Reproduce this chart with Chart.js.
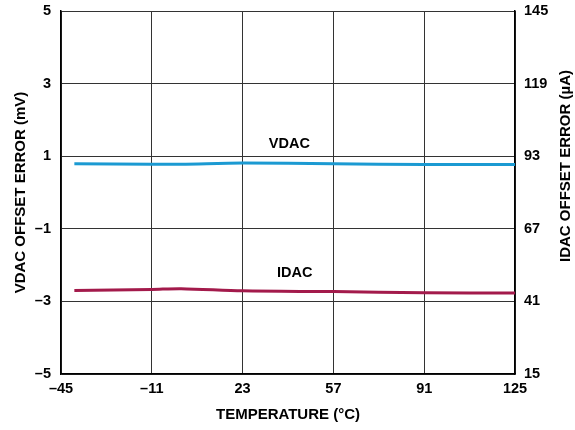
<!DOCTYPE html>
<html>
<head>
<meta charset="utf-8">
<script src="https://cdn.jsdelivr.net/npm/chart.js@4.4.0/dist/chart.umd.min.js"></script>
<style>
    html, body { margin: 0; padding: 0; background: #fff; }
    #wrap { width: 575px; height: 430px; }
</style>
</head>
<body>
<div id="wrap"><canvas id="OffsetError"></canvas></div>
<script>
    var temperature = [-40, -11, 0, 23, 57, 91, 125];
    var vdacError = [0.79, 0.78, 0.78, 0.81, 0.79, 0.77, 0.77];
    var idacError = [-2.70, -2.67, -2.65, -2.71, -2.73, -2.76, -2.77];

    var xTicks = [-45, -11, 23, 57, 91, 125];
    var leftTicks = [-5, -3, -1, 1, 3, 5];
    var rightTicks = [15, 41, 67, 93, 119, 145];

    // series name labels, placed in data units
    var seriesLabels = [
        { text: "VDAC", x: 40.5, y: 1.34 },
        { text: "IDAC", x: 42.5, y: -2.22 }
    ];

    var dash = function (v) { return String(v).replace("-", "\u2013"); };
    var fontFamily = "Liberation Sans, Arial, sans-serif";
    var tickFont = { family: fontFamily, size: 14.5, weight: "bold" };
    var titleFont = { family: fontFamily, size: 15, weight: "bold" };

    var labelPlugin = {
        id: "seriesLabels",
        afterDatasetsDraw: function (chart) {
            var ctx = chart.ctx;
            ctx.save();
            ctx.font = "bold 14.5px " + fontFamily;
            ctx.fillStyle = "#000";
            ctx.textAlign = "center";
            ctx.textBaseline = "middle";
            seriesLabels.forEach(function (l) {
                ctx.fillText(l.text, chart.scales.x.getPixelForValue(l.x), chart.scales.y.getPixelForValue(l.y));
            });
            // right axis title reads bottom to top, like the left one
            ctx.font = "bold 15px " + fontFamily;
            ctx.translate(chart.scales.y2.right - 9, 166);
            ctx.rotate(-Math.PI / 2);
            ctx.fillText("IDAC OFFSET ERROR (µA)", 0, 0);
            ctx.restore();
        }
    };

    var fitY = function (w) {
        return function (s) {
            s.width = w;
            s.paddingTop = 0;
            s.paddingBottom = 0;
        };
    };

    new Chart(document.getElementById("OffsetError"), {
        type: "line",
        data: {
            datasets: [
                {
                    label: "VDAC",
                    borderColor: "#1b9ad2",
                    borderWidth: 3,
                    pointRadius: 0,
                    tension: 0.3,
                    yAxisID: "y",
                    data: temperature.map(function (t, i) { return { x: t, y: vdacError[i] }; })
                },
                {
                    label: "IDAC",
                    borderColor: "#a31a4b",
                    borderWidth: 3,
                    pointRadius: 0,
                    tension: 0.3,
                    yAxisID: "y",
                    data: temperature.map(function (t, i) { return { x: t, y: idacError[i] }; })
                }
            ]
        },
        options: {
            responsive: true,
            maintainAspectRatio: false,
            animation: false,
            layout: { padding: { top: 11, left: 0, right: 0, bottom: 0 } },
            plugins: {
                legend: { display: false },
                tooltip: { enabled: false }
            },
            scales: {
                x: {
                    type: "linear",
                    min: -45,
                    max: 125,
                    afterBuildTicks: function (s) { s.ticks = xTicks.map(function (v) { return { value: v }; }); },
                    afterFit: function (s) { s.height = 56; },
                    grid: { color: "#333", lineWidth: 1, drawTicks: false },
                    border: { color: "#000", width: 1.5 },
                    ticks: { color: "#000", font: tickFont, padding: 6, maxRotation: 0, callback: dash },
                    title: { display: true, text: "TEMPERATURE (°C)", color: "#000", font: titleFont, padding: { top: 0, bottom: 6 } }
                },
                y: {
                    type: "linear",
                    position: "left",
                    min: -5,
                    max: 5,
                    afterBuildTicks: function (s) { s.ticks = leftTicks.map(function (v) { return { value: v }; }); },
                    afterFit: fitY(61),
                    grid: { color: "#333", lineWidth: 1, drawTicks: false },
                    border: { color: "#000", width: 1.5 },
                    ticks: { color: "#000", font: tickFont, padding: 10, callback: dash },
                    title: { display: true, text: "VDAC OFFSET ERROR (mV)", color: "#000", font: titleFont, padding: { top: 12, bottom: 0 } }
                },
                y2: {
                    type: "linear",
                    position: "right",
                    min: 15,
                    max: 145,
                    afterBuildTicks: function (s) { s.ticks = rightTicks.map(function (v) { return { value: v }; }); },
                    afterFit: fitY(60),
                    grid: { drawOnChartArea: false, drawTicks: false },
                    border: { color: "#000", width: 1.5 },
                    ticks: { color: "#000", font: tickFont, padding: 9 },
                    title: { display: false }
                }
            }
        },
        plugins: [labelPlugin]
    });
</script>
</body>
</html>
